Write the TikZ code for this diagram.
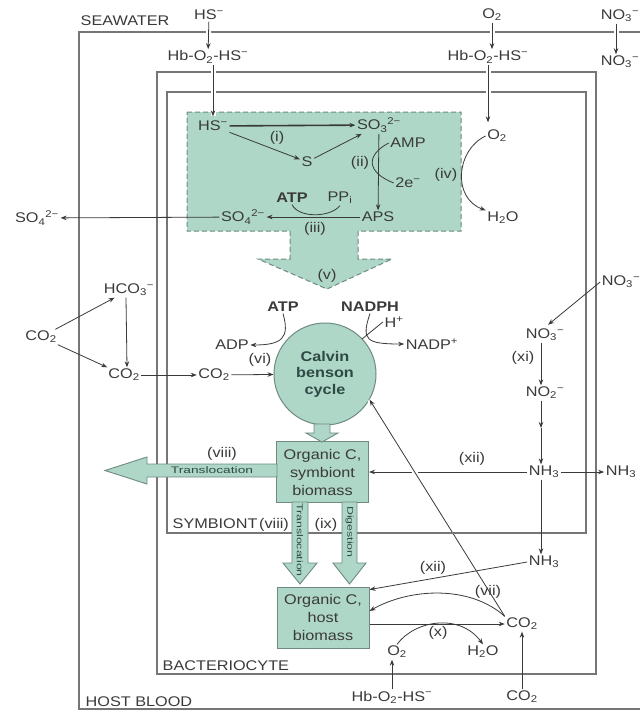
\documentclass[tikz,border=0pt]{standalone}
\usepackage{fontspec}
\setmainfont{Liberation Sans}[FakeStretch=1.16]
\newfontfamily\shaftfont{Liberation Sans}[FakeStretch=1.45]
\usetikzlibrary{arrows.meta, positioning}
\definecolor{ink}{HTML}{3A3A3A}
\definecolor{wallc}{HTML}{767676}
\definecolor{cellfill}{HTML}{AED7C7}
\definecolor{celledge}{HTML}{6E8A83}
\definecolor{cycink}{HTML}{2E4A45}
\newcommand{\sbs}[1]{\textsubscript{#1}}
\newcommand{\sps}[1]{\textsuperscript{#1}}
\newcommand{\hbcomplex}{Hb-O\sbs{2}-HS\sps{−}}

\begin{document}
\begin{tikzpicture}[x=1pt, y=-1pt, font=\fontsize{14}{18}\selectfont, text=ink]
  \tikzset{
    wall/.style={draw=wallc, line width=1.1pt},
    zone/.style={fill=cellfill, draw=celledge, line width=1pt, dash pattern=on 5pt off 3pt},
    lbl/.style={inner sep=1.5pt},
    num/.style={inner sep=1pt},
    arr/.style={draw=ink, line width=0.8pt, -{Stealth[length=6pt, width=4.5pt]}},
    ln/.style={draw=ink, line width=0.8pt},
    gap/.style={preaction={draw=white, line width=5pt, -}},
    blk/.style={fill=cellfill, draw=celledge, line width=0.9pt},
    bio/.style={draw=celledge, fill=cellfill, line width=1pt, minimum width=92pt, minimum height=61pt, align=center, inner sep=1pt, font=\fontsize{14}{18}\selectfont},
    cyc/.style={circle, draw=celledge, fill=cellfill, line width=1pt, minimum size=102pt, inner sep=0pt, align=center, text=cycink, font=\fontsize{14}{16.5}\selectfont\bfseries},
    shaft/.style={inner sep=0pt, text=cycink, font=\shaftfont\fontsize{9.5}{10}\selectfont},
    vshaft/.style={shaft, rotate=-90, font=\shaftfont\fontsize{8.5}{9}\selectfont}
  }
  \fill[white] (0,0) rectangle (640,712);
  \useasboundingbox (0,0) rectangle (640,712);

  \filldraw[zone] (187,112) -- (461,112) -- (461,231) -- (358,231) -- (358,259) -- (392,259) -- (327,289)
    -- (258,259) -- (290,259) -- (290,231) -- (187,231) -- cycle;

  \node[cyc] (cal) at (325,374) {Calvin\\benson\\cycle};
  \node[bio] (sym) at (322.5,472) {Organic C,\\symbiont\\biomass};
  \node[bio] (host) at (323,617.5) {Organic C,\\host\\biomass};

  \node[lbl] (nh3S) at (544,472) {NH\sbs{3}};
  \node[lbl] (co2B) at (522,624) {CO\sbs{2}};
  \draw[arr] (nh3S) -- (sym);
  \draw[arr, gap] (co2B.north west) -- (cal.-30);

  \draw[wall] (640,32) -- (79,32) -- (79,709) -- (640,709);
  \draw[wall] (157,72) rectangle (596,674);
  \draw[wall] (167,92) rectangle (586,533);
  \node[lbl, anchor=west] (seaw) at (79,21) {SEAWATER};
  \node[lbl, anchor=west] (blood) at (84,702) {HOST BLOOD};
  \node[lbl, anchor=west] (bact) at (161,666) {BACTERIOCYTE};
  \node[lbl, anchor=west] (symb) at (171,524) {SYMBIONT};

  \node[lbl] (hsT) at (209,15) {HS\sps{−}};
  \node[lbl] (hbL) at (208,57) {\hbcomplex};
  \node[lbl] (o2T) at (492,15) {O\sbs{2}};
  \node[lbl] (hbR) at (488,57) {\hbcomplex};
  \node[lbl] (no3T) at (620,16) {NO\sbs{3}\sps{−}};
  \node[lbl] (no3Tb) at (620,62) {NO\sbs{3}\sps{−}};
  \node[lbl] (o2I) at (497,136) {O\sbs{2}};
  \node[lbl] (h2oI) at (503,218) {H\sbs{2}O};

  \node[lbl] (hsG) at (213,126) {HS\sps{−}};
  \node[lbl] (so3) at (379,125) {SO\sbs{3}\sps{2−}};
  \node[lbl] (sG) at (307,162) {S};
  \node[lbl] (amp) at (408,143) {AMP};
  \node[lbl] (e2) at (408,183) {2e\sps{−}};
  \node[lbl] (aps) at (378,217) {APS};
  \node[lbl] (atpS) at (292,198) {\textbf{ATP}};
  \node[lbl] (ppi) at (340,198) {PP\sbs{i}};
  \node[lbl] (so4G) at (243,217) {SO\sbs{4}\sps{2−}};
  \node[lbl] (so4O) at (37,218) {SO\sbs{4}\sps{2−}};
  \node[num] (n1) at (277,138) {(i)};
  \node[num] (n2) at (360,163) {(ii)};
  \node[num] (n3) at (315,229) {(iii)};
  \node[num] (n4) at (446,175) {(iv)};
  \node[num] (n5) at (327,276) {(v)};

  \draw[arr, gap] (hsT) -- (hbL);
  \draw[arr, gap, shorten >=3pt] (hsG.north |- hbL.south) -- (hsG.north);
  \draw[arr, gap] (o2T.south) -- (o2T.south |- hbR.north);
  \draw[arr, gap, shorten >=6pt] (hbR.south) -- (hbR.south |- o2I.north);
  \draw[arr, gap] ([xshift=-4pt]no3T.south) -- ([xshift=-4pt]no3Tb.north);

  \draw[arr, line width=1.6pt] (hsG) -- (so3);
  \draw[arr] (hsG) -- (sG);
  \draw[arr] (sG) -- (so3);
  \draw[arr] (so3) -- (aps);
  \draw[ln] (amp.west) .. controls (366,155) and (366,172) .. (e2.west);
  \draw[arr] (aps) -- (so4G);
  \draw[ln] (atpS.south) .. controls (298,218) and (330,218) .. (ppi.south);
  \draw[arr] (so4G) -- (so4O);
  \draw[arr] (o2I.west) .. controls (456,150) and (452,198) .. (h2oI.north west);

  \node[lbl] (atpC) at (283,307) {\textbf{ATP}};
  \node[lbl] (nadph) at (370,307) {\textbf{NADPH}};
  \node[lbl] (hplus) at (394,322) {H\sps{+}};
  \node[lbl] (adp) at (232,345) {ADP};
  \node[lbl] (nadp) at (432,344) {NADP\sps{+}};
  \node[num] (n6) at (260,360) {(vi)};
  \coordinate (hjoin) at (362,339);
  \draw[arr] (atpC.south) .. controls (290,338) and (282,345) .. (adp.east);
  \draw[arr] (nadph.south) .. controls (361,340) and (366,344) .. (nadp.west);
  \draw[ln] (hplus.west) -- (hjoin);

  \node[lbl] (co2L) at (41,337) {CO\sbs{2}};
  \node[lbl] (hco3) at (129,290) {HCO\sbs{3}\sps{−}};
  \node[lbl] (co2M) at (124,375) {CO\sbs{2}};
  \node[lbl] (co2R) at (214,375) {CO\sbs{2}};
  \draw[arr] (co2L) -- (hco3);
  \draw[arr] ([xshift=-3pt]hco3.south) -- ([xshift=3pt]co2M.north);
  \draw[arr] (co2L) -- (co2M);
  \draw[arr] (co2M) -- (co2R);
  \draw[arr] (co2R) -- (cal);

  \filldraw[blk] (314,424) -- (330,424) -- (330,433) -- (338,433) -- (322,442) -- (306,433) -- (314,433) -- cycle;
  \filldraw[blk] (277,464) -- (147,464) -- (147,457) -- (105,470.5) -- (147,484) -- (147,477) -- (277,477) -- cycle;
  \node[shaft] (trH) at (212,470.5) {Translocation};
  \node[num] (n8a) at (222,454) {(viii)};
  \filldraw[blk] (292,502) -- (292,563) -- (283,563) -- (300,584) -- (317,563) -- (308,563) -- (308,502) -- cycle;
  \filldraw[blk] (342,502) -- (342,563) -- (333,563) -- (349.5,584) -- (366,563) -- (357,563) -- (357,502) -- cycle;
  \node[vshaft] (trV) at (300,540) {Translocation};
  \node[vshaft] (dig) at (349.5,532) {Digestion};
  \node[num] (n8b) at (274,525) {(viii)};
  \node[num] (n9) at (326,525) {(ix)};

  \node[lbl] (no3R) at (621,282) {NO\sbs{3}\sps{−}};
  \node[lbl] (no3S) at (545,335) {NO\sbs{3}\sps{−}};
  \node[lbl] (no2) at (545,393) {NO\sbs{2}\sps{−}};
  \coordinate (nmid) at (541,428);
  \node[lbl] (nh3R) at (621,472) {NH\sbs{3}};
  \node[lbl] (nh3B) at (544,562) {NH\sbs{3}};
  \node[num] (n11) at (523,358) {(xi)};
  \node[num] (n12a) at (472,459) {(xii)};
  \node[num] (n12b) at (433,568) {(xii)};
  \draw[arr, shorten >=4pt] (no3R.west) -- (no3S.north);
  \draw[arr] (no3S.south -| nmid) -- (no2.north -| nmid);
  \draw[arr] (no2.south -| nmid) -- (nmid);
  \draw[arr] (nmid) -- (nh3S.north -| nmid);
  \draw[arr] (nh3S) -- (nh3R);
  \draw[arr] (nh3S.south -| nmid) -- (nh3B.north -| nmid);
  \draw[arr] (nh3B.west) -- (host.31);

  \node[lbl] (o2B) at (397,652) {O\sbs{2}};
  \node[lbl] (h2oB) at (483,652) {H\sbs{2}O};
  \node[lbl] (hbB) at (392,697) {\hbcomplex};
  \node[lbl] (co2BB) at (522,697) {CO\sbs{2}};
  \node[num] (n7) at (488,592) {(vii)};
  \node[num] (n10) at (438,633) {(x)};
  \draw[arr] (co2B.north west) .. controls (470,585) and (410,588) .. (host.8);
  \draw[arr] (host.east |- co2B) -- (co2B.west);
  \draw[arr] (o2B.north) .. controls (415,620) and (460,613) .. (h2oB.north);
  \draw[arr] (hbB.north) -- (hbB.north |- o2B.south);
  \draw[arr] (co2BB) -- (co2B);
\end{tikzpicture}
\end{document}
